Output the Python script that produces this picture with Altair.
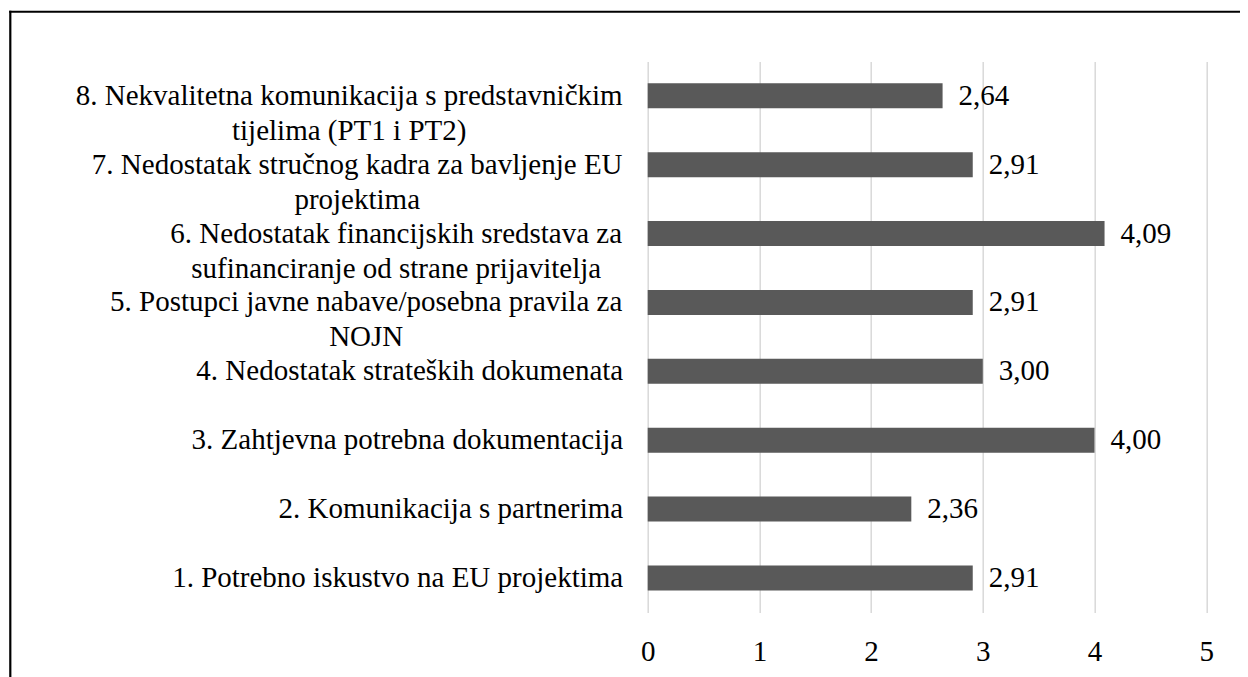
import altair as alt
import pandas as pd

# ---- data ----
categories = [
    "1. Potrebno iskustvo na EU projektima",
    "2. Komunikacija s partnerima",
    "3. Zahtjevna potrebna dokumentacija",
    "4. Nedostatak strateških dokumenata",
    "5. Postupci javne nabave/posebna pravila za\nNOJN",
    "6. Nedostatak financijskih sredstava za\nsufinanciranje od strane prijavitelja",
    "7. Nedostatak stručnog kadra za bavljenje EU\nprojektima",
    "8. Nekvalitetna komunikacija s predstavničkim\ntijelima (PT1 i PT2)",
]
values = [2.91, 2.36, 4.00, 3.00, 2.91, 4.09, 2.91, 2.64]
x_ticks = [0, 1, 2, 3, 4, 5]

df = pd.DataFrame({"category": categories, "value": values})
df["label"] = [f"{v:.2f}".replace(".", ",") for v in values]

FONT = "Liberation Serif"
FS = 29
W, H = 558.5, 551

# label padding that centres the two-line labels on their widest line
pad_expr = (
    "substring(datum.value,0,2)=='8.' ? 299 : "
    "substring(datum.value,0,2)=='7.' ? 291 : "
    "substring(datum.value,0,2)=='6.' ? 252 : "
    "substring(datum.value,0,2)=='5.' ? 282 : 25"
)
align_expr = "length(split(datum.value,'\\n'))>1 ? 'center' : 'right'"

y_enc = alt.Y(
    "category:N",
    sort=list(reversed(categories)),
    scale=alt.Scale(paddingInner=0.637, paddingOuter=0.3185),
    axis=alt.Axis(
        title=None, domain=False, ticks=False, tickSize=0, grid=False,
        labelFont=FONT, labelFontSize=FS, labelColor="#000000",
        labelLineHeight=35, labelLimit=0, labelOverlap=False,
        labelExpr="split(datum.label, '\\n')",
        labelAlign={"expr": align_expr},
        labelPadding={"expr": pad_expr},
        labelBaseline="middle",
    ),
)
x_enc = alt.X(
    "value:Q",
    scale=alt.Scale(domain=[0, 5], nice=False),
    axis=alt.Axis(
        title=None, values=x_ticks, format="d", domain=False, ticks=False, tickSize=0,
        grid=True, gridColor="#d9d9d9", gridWidth=1.5,
        labelFont=FONT, labelFontSize=FS, labelColor="#000000",
        labelPadding=25, labelFlush=False, labelOverlap=False,
    ),
)

base = alt.Chart(df)
bars = base.mark_bar(color="#595959").encode(x=x_enc, y=y_enc)
texts = base.mark_text(
    align="left", baseline="middle", dx=16, font=FONT, fontSize=FS, color="#000000"
).encode(x=alt.X("value:Q"), y=alt.Y("category:N", sort=list(reversed(categories))), text="label:N")

one = alt.Chart(pd.DataFrame({"k": [0]}))
left_border = one.mark_rule(color="#000000", strokeWidth=2.2).encode(
    x=alt.value(-637.4), y=alt.value(-50.7), y2=alt.value(640)
)
top_border = one.mark_rule(color="#000000", strokeWidth=2).encode(
    y=alt.value(-49.6), x=alt.value(-638.5), x2=alt.value(620)
)

chart = alt.layer(bars, texts, left_border, top_border).properties(
    width=W, height=H,
    autosize=alt.AutoSizeParams(type="none"),
    padding={"left": 639.7, "top": 53.4, "right": 33.8, "bottom": 64.6},
).configure(font=FONT).configure_view(stroke=None)

chart.save("out.html", embed_options={"renderer": "svg", "actions": False})
